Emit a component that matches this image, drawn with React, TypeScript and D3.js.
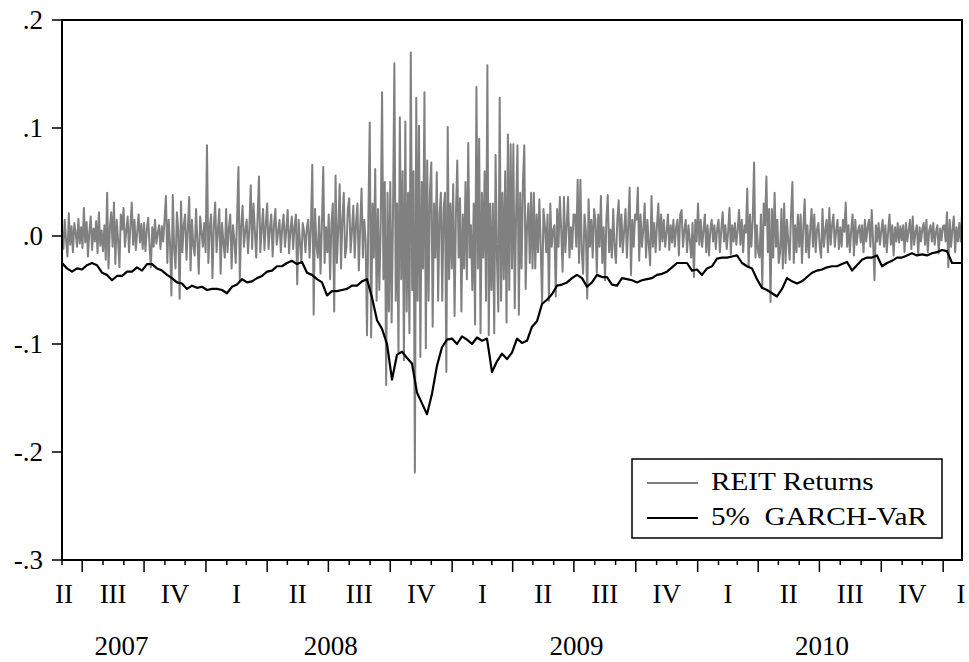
import React from "react";
import * as d3 from "d3";

// Sample window of the daily series
const START = new Date(2007, 5, 1);
const END = new Date(2011, 0, 29);

const Y_TICKS = [0.2, 0.1, 0, -0.1, -0.2, -0.3];
const Y_TICK_LABELS = [".2", ".1", ".0", "-.1", "-.2", "-.3"];
const QUARTER_NAMES = ["I", "II", "III", "IV"];
const SERIES_NAMES = ["REIT Returns", "5% GARCH-VaR"];
const SERIES_COLORS = ["#808080", "#000000"];

// REIT returns in percent, fifteen observations per month (Jun 2007 .. Jan 2011)
const REIT_RETURNS_PCT = [
  0.6, -1.2, 1.5, -0.4, -1.9, 2.1, -0.8, 0.9, -1.5, 1.2, 0.3, -1.0, 1.6, -0.7, 0.8,
  -1.1, 2.6, -0.6, 1.3, -1.9, 0.4, 1.8, -1.3, 0.7, -0.5, 1.4, -1.6, 2.2, -0.9, 0.5,
  -1.4, 1.0, -2.2, 4.0, -3.0, 0.8, 2.2, -1.0, 3.1, -2.6, 1.5, -0.4, -2.9, 2.0, 0.6,
  2.6, -1.0, 0.5, 1.8, -1.5, 0.9, 3.1, -0.8, 1.5, -1.3, 0.4, 2.0, -0.6, 1.1, -1.2,
  1.2, -1.4, 0.6, 1.7, -0.9, -2.9, 0.8, -1.0, 1.5, -0.7, 0.3, 1.0, -1.2, 0.9, -0.5,
  1.6, 3.7, -2.5, 1.5, -0.8, -5.5, 3.8, -1.2, -3.0, 2.2, 0.5, -5.8, 3.2, -1.5, 1.0,
  2.0, -2.2, 0.6, 3.6, -3.2, 1.5, -0.9, -1.8, 2.5, -0.5, -3.5, 1.8, 0.4, -1.0, 1.2,
  -1.5, 8.4, -2.5, 0.8, 2.0, -3.9, 1.0, 3.1, -1.5, 0.5, 2.5, -3.5, 1.2, -0.6, -2.0,
  2.5, -1.5, 0.7, 2.0, -3.0, 1.0, -0.4, -2.5, 1.6, 6.4, -4.1, 0.9, 2.8, -1.0, 0.5,
  1.5, -1.6, 0.8, 4.7, -1.2, 3.0, 0.5, -2.0, 1.7, 5.5, -1.5, 0.6, 2.5, -1.3, 1.0,
  3.0, -1.2, 0.7, 2.0, -1.9, 1.0, 2.5, -0.8, 0.4, 1.5, -1.5, 0.8, 2.0, -1.0, 0.6,
  2.4, -1.6, 0.5, 1.8, -1.2, 0.9, 2.0, -4.5, 1.5, -0.6, -2.5, 1.2, 0.4, -1.5, 0.8,
  1.5, -2.0, 0.9, 6.6, -7.3, 2.5, -0.8, -2.0, 1.8, -3.5, 1.0, 6.4, -2.5, 0.8, -1.5,
  2.0, -4.0, 1.2, 3.0, -7.0, 5.6, -2.5, 0.6, 4.8, -3.0, 1.5, 4.0, -2.0, -1.0, 2.5,
  3.5, -1.5, 0.5, 2.8, -2.0, 1.2, 3.0, -3.2, 0.8, 4.4, -2.0, 1.5, -0.5, -9.2, 2.0,
  10.5, -9.4, 3.0, -2.0, 6.2, -6.0, 2.5, -5.0, 1.0, 13.3, -4.0, 5.0, -13.8, 4.0, -7.0,
  5.0, -8.0, 2.0, 16.0, -6.0, 3.0, -10.8, 11.0, -4.0, 6.0, -11.5, 10.6, -7.0, 4.0, -9.0,
  17.0, -5.0, 6.0, -21.9, 12.8, -6.0, 10.2, -11.2, 5.0, -3.0, 13.3, -10.4, 7.0, -6.0, 4.0,
  6.8, -8.4, 3.0, -2.0, 5.9, -6.0, 2.0, 4.0, -6.0, 2.5, 4.0, -12.6, 10.1, -4.0, 3.0,
  -3.0, 4.8, -7.4, 2.0, 7.0, -2.0, 3.5, -7.0, 2.0, -3.0, 5.0, -4.0, 8.6, -2.0, 1.0,
  -5.0, 3.0, -8.2, 13.8, -3.0, 9.0, -9.0, 4.0, -2.0, 6.0, -6.0, 15.8, -9.2, 3.0, -5.0,
  3.0, -9.0, 7.5, -2.0, -7.0, 12.8, -6.0, 4.0, -4.0, 6.0, -8.0, 9.4, -5.0, 8.5, -3.0,
  8.5, -6.7, 2.0, 8.4, -7.3, 4.0, -3.0, 5.0, 8.4, -4.9, 1.0, 3.0, -2.5, 4.0, -3.0,
  4.0, -3.0, 2.0, -1.5, 3.4, -1.0, -6.2, 2.5, 1.0, -1.5, 2.0, -6.0, 3.0, -1.0, 0.5,
  1.0, -5.6, 2.5, -1.0, 3.6, 0.5, -3.3, 3.6, -1.5, 1.0, 3.6, -2.0, 0.8, -1.2, 2.0,
  2.0, -1.0, 5.2, -2.5, 5.2, -1.5, -3.5, 2.0, 0.5, -5.8, 3.4, -1.0, 1.5, -2.0, 2.5,
  1.5, -3.4, 2.0, -1.0, 3.7, -2.5, 0.8, -4.1, 1.5, 3.8, -1.5, 0.6, -2.0, 2.5, -1.0,
  -2.5, 1.5, 3.3, -1.0, 2.0, -1.5, 0.5, 2.5, -2.0, 1.0, 4.5, -3.6, 1.5, -1.0, 2.0,
  1.5, 4.5, -2.3, 2.0, -1.0, 0.6, 3.0, -2.0, 1.5, -0.8, -2.7, 3.7, -1.0, 1.2, -1.5,
  1.0, 3.0, -1.3, 2.0, -0.5, 1.5, -1.0, 0.4, 2.0, -1.3, 1.0, -0.6, 1.5, -1.0, 0.8,
  1.5, -1.8, 2.0, 2.4, -1.0, 0.5, 1.5, -1.5, 1.0, -0.4, -2.0, 1.2, -3.8, 1.5, -0.5,
  3.0, -0.8, 1.5, -1.0, 0.5, 2.0, -1.5, 1.0, -1.8, 0.6, 1.5, -0.5, 1.0, -1.2, 0.7,
  1.5, -1.5, 0.6, 2.2, -0.5, 1.0, -1.2, 0.4, 2.6, -1.7, 1.0, -0.5, 1.2, -0.8, 0.6,
  2.4, -0.8, 1.5, -1.5, 1.0, 0.3, 4.4, -2.9, 2.0, -1.0, 1.5, 6.8, -2.0, 1.0, -1.5,
  -2.0, 2.0, -4.7, 3.0, 1.0, 5.5, -1.5, 2.5, -6.1, 2.5, -2.0, 4.0, -1.0, 1.5, -2.5,
  -1.5, 2.5, -3.0, 3.0, -2.5, 1.5, -0.5, -2.2, 2.0, 5.0, -2.5, 1.0, -1.5, 2.0, -1.0,
  2.0, -2.5, 0.8, 3.4, -1.5, 1.0, -2.0, 0.5, 2.5, -1.0, 2.0, -1.5, 0.6, 1.2, -1.0,
  -2.0, 2.5, -1.0, 0.5, 1.5, -1.5, 2.6, -0.8, 1.0, 2.0, -1.0, 0.5, 1.5, -1.2, 0.8,
  -1.0, 1.5, 0.4, 3.1, -1.0, 1.0, -1.5, 0.6, 2.0, -1.8, 1.5, -0.8, 0.5, 1.0, -0.6,
  1.0, -1.5, 1.5, -0.5, 0.8, 1.5, -1.0, 2.4, -0.5, -4.1, 1.0, -0.5, 1.2, -0.8, 0.5,
  1.5, -1.0, 1.0, -1.5, 0.4, 2.0, -0.8, 1.0, -1.8, 0.8, -0.5, 1.2, -0.6, 0.9, -0.4,
  1.0, -1.5, 1.2, -0.5, 0.6, 1.5, -1.2, 1.8, -0.8, 0.4, 1.0, -1.7, 0.8, -0.5, 0.7,
  1.2, -0.8, 1.5, -1.5, 0.5, 1.0, -0.5, 1.2, -0.8, 0.4, 1.0, -1.6, 0.7, -0.4, 0.9,
  1.0, -0.5, 2.2, -2.9, 1.5, -1.0, 0.6, 1.8, -1.5, 0.8, -0.5, 1.2, -0.5, 2.0,
];

// 5% GARCH value-at-risk in percent, evenly spaced over the same window
const GARCH_VAR_PCT = [
  -2.5, -3.0, -3.3, -3.0, -3.1, -2.7, -2.5, -2.7, -3.4, -3.6,
  -4.1, -3.7, -3.7, -3.3, -3.3, -2.9, -3.2, -2.6, -2.6, -3.0,
  -3.2, -3.6, -3.9, -4.3, -4.4, -4.9, -4.6, -4.8, -4.7, -5.0,
  -4.9, -4.9, -5.0, -5.3, -4.7, -4.5, -4.0, -4.3, -4.2, -3.9,
  -3.7, -3.3, -3.2, -2.8, -2.8, -2.5, -2.3, -2.6, -2.4, -3.4,
  -3.6, -4.0, -4.3, -5.5, -5.1, -5.1, -5.0, -4.9, -4.6, -4.6,
  -4.2, -4.0, -5.7, -7.8, -8.6, -10.0, -13.3, -11.0, -10.7, -11.3,
  -11.8, -14.5, -15.5, -16.5, -14.6, -12.0, -10.3, -9.6, -9.5, -10.0,
  -9.3, -9.6, -10.0, -9.4, -9.7, -9.5, -12.6, -11.6, -10.9, -11.4,
  -10.8, -9.5, -9.9, -9.7, -8.4, -7.9, -6.3, -5.9, -5.4, -4.6,
  -4.5, -4.3, -3.9, -3.6, -3.9, -4.7, -4.3, -3.6, -3.8, -3.8,
  -4.5, -4.6, -3.9, -4.0, -4.1, -4.3, -4.1, -4.0, -3.9, -3.6,
  -3.5, -3.3, -2.9, -2.5, -2.5, -2.5, -3.2, -3.1, -3.6, -3.0,
  -2.8, -2.1, -2.0, -2.0, -1.9, -1.8, -2.5, -2.8, -3.0, -4.0,
  -4.8, -5.0, -5.3, -5.6, -4.9, -3.9, -4.2, -4.4, -4.2, -3.8,
  -3.4, -3.2, -3.1, -2.9, -2.8, -2.8, -2.6, -2.4, -3.2, -2.7,
  -2.2, -2.0, -2.0, -1.8, -2.8, -2.5, -2.3, -2.0, -2.0, -1.8,
  -1.6, -1.8, -1.7, -1.8, -1.6, -1.5, -1.3, -1.4, -2.5, -2.5,
  -2.5,
];

const FONT = "'Liberation Serif', 'Times New Roman', serif";

type Point = { date: Date; value: number };

function spread(values: number[]): Point[] {
  const t0 = +START;
  const span = +END - t0;
  return values.map((v, i) => ({
    date: new Date(t0 + (i / (values.length - 1)) * span),
    value: v / 100,
  }));
}

export default function App() {
  const width = 969;
  const height = 662;
  const plot = { left: 62, right: 962, top: 20, bottom: 560 };

  const x = d3.scaleTime().domain([START, END]).range([plot.left, plot.right]);
  const y = d3.scaleLinear().domain([-0.3, 0.2]).range([plot.bottom, plot.top]);

  const line = d3
    .line<Point>()
    .x((d) => x(d.date))
    .y((d) => y(d.value));

  const returns = spread(REIT_RETURNS_PCT);
  const varLine = spread(GARCH_VAR_PCT);

  const months = d3.timeMonth.range(START, END);

  // Quarter labels centred in each quarter, kept inside the axis span
  const quarters = d3.timeMonth.every(3)!.range(new Date(2007, 3, 1), END);
  const quarterLabels = quarters.map((q) => {
    const next = d3.timeMonth.offset(q, 3);
    const mid = (x(q) + x(next)) / 2;
    const cx = Math.max(plot.left + 2, Math.min(plot.right - 1, mid));
    return { year: q.getFullYear(), text: QUARTER_NAMES[Math.floor(q.getMonth() / 3)], cx };
  });
  const years = d3
    .groups(quarterLabels, (d) => d.year)
    .filter(([, qs]) => qs.length > 1)
    .map(([year, qs]) => ({ year, cx: (qs[0].cx + qs[qs.length - 1].cx) / 2 + 2 }));

  return (
    <svg
      width={width}
      height={height}
      style={{ position: "absolute", left: 0, top: 0, display: "block", background: "#fff" }}
      fontFamily={FONT}
    >
      <rect x={0} y={0} width={width} height={height} fill="#fff" />

      <path d={line(returns) ?? ""} fill="none" stroke={SERIES_COLORS[0]} strokeWidth={2} strokeLinejoin="round" />
      <path d={line(varLine) ?? ""} fill="none" stroke={SERIES_COLORS[1]} strokeWidth={2.2} strokeLinejoin="round" />

      <rect
        x={plot.left}
        y={plot.top}
        width={plot.right - plot.left}
        height={plot.bottom - plot.top}
        fill="none"
        stroke="#000"
        strokeWidth={2}
      />

      {Y_TICKS.map((t, i) => (
        <g key={t}>
          <line x1={plot.left - 10} x2={plot.left} y1={y(t)} y2={y(t)} stroke="#000" strokeWidth={1.5} />
          <text x={43} y={y(t)} dy="0.35em" textAnchor="end" fontSize={27} fill="#000">
            {Y_TICK_LABELS[i]}
          </text>
        </g>
      ))}

      {months.map((m) => {
        const long = m.getMonth() % 3 === 0;
        return (
          <line
            key={+m}
            x1={x(m)}
            x2={x(m)}
            y1={plot.bottom}
            y2={plot.bottom + (long ? 12 : 5)}
            stroke="#000"
            strokeWidth={1.5}
          />
        );
      })}

      {quarterLabels.map((q, i) => (
        <text key={i} x={q.cx} y={603} textAnchor="middle" fontSize={27} fill="#000">
          {q.text}
        </text>
      ))}

      {years.map((yr) => (
        <text key={yr.year} x={yr.cx} y={655} textAnchor="middle" fontSize={27} fill="#000">
          {yr.year}
        </text>
      ))}

      <g>
        <rect x={632} y={459} width={310} height={79} fill="#fff" stroke="#000" strokeWidth={1.5} />
        {SERIES_NAMES.map((name, i) => {
          const rowY = 483 + i * 35;
          return (
            <g key={name}>
              <line x1={647} x2={698} y1={rowY} y2={rowY} stroke={SERIES_COLORS[i]} strokeWidth={2} />
              <text
                transform={`translate(711, ${rowY + 7}) scale(1.17, 1)`}
                fontSize={25}
                fill="#000"
                style={{ whiteSpace: "pre" }}
              >
                {name.replace("% ", "%  ")}
              </text>
            </g>
          );
        })}
      </g>
    </svg>
  );
}
